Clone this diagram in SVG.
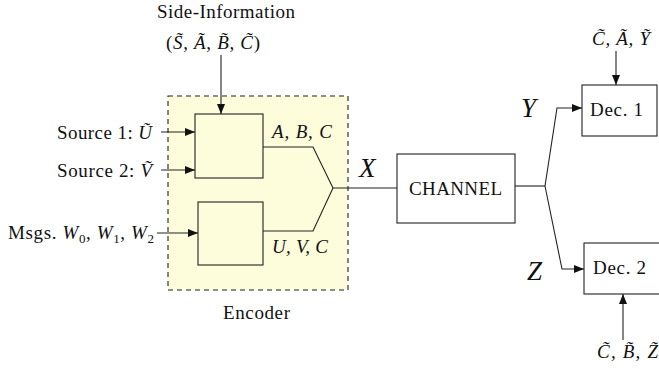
<svg xmlns="http://www.w3.org/2000/svg" width="659" height="369" viewBox="0 0 659 369">
<style>
text{font-family:"Liberation Serif","DejaVu Serif",serif;fill:#111}
.t{font-size:19px}
.m{font-size:19px;font-style:italic}
.big{font-size:27px;font-style:italic}
.box{fill:none;stroke:#222;stroke-width:1.1}
.ln{fill:none;stroke:#222;stroke-width:1.1}
.sub{font-size:13px;font-style:normal}
</style>
<defs>
<marker id="ah" viewBox="0 0 10 8" refX="10" refY="4" markerWidth="10" markerHeight="8" markerUnits="userSpaceOnUse" orient="auto">
<path d="M0,0 L10,4 L0,8 Z" fill="#111"/>
</marker>
</defs>
<g id="encoder">
<rect x="168" y="96" width="180" height="194" fill="#fdfddc" stroke="#222" stroke-width="1.1" stroke-dasharray="5,4"/>
<text class="t" x="223" y="319" textLength="67">Encoder</text>
</g>
<g id="enc1"><rect class="box" x="195" y="114" width="68" height="64"/></g>
<g id="enc2"><rect class="box" x="198" y="202" width="65" height="63"/></g>
<g id="channel">
<rect class="box" x="397" y="154" width="118" height="69" fill="#fff"/>
<text class="t" x="409" y="195" textLength="93">CHANNEL</text>
</g>
<g id="dec1">
<rect class="box" x="582" y="85" width="75" height="51"/>
<text class="t" x="590" y="116" textLength="53">Dec. 1</text>
</g>
<g id="dec2">
<rect x="584" y="243" width="80" height="51" fill="none" stroke="#222" stroke-width="1.1"/>
<text class="t" x="593" y="274" textLength="53">Dec. 2</text>
</g>
<g id="labels">
<text class="t" x="157" y="18" textLength="138">Side-Information</text>
<text class="t" x="166" y="49" textLength="94">(<tspan class="m">S̃</tspan>, <tspan class="m">Ã</tspan>, <tspan class="m">B̃</tspan>, <tspan class="m">C̃</tspan>)</text>
<text class="t" x="57" y="139" textLength="95">Source 1: <tspan class="m">Ũ</tspan></text>
<text class="t" x="57" y="177" textLength="95">Source 2: <tspan class="m">Ṽ</tspan></text>
<text class="t" x="8" y="239" textLength="146">Msgs. <tspan class="m">W</tspan><tspan class="sub" dy="4">0</tspan><tspan dy="-4">, </tspan><tspan class="m">W</tspan><tspan class="sub" dy="4">1</tspan><tspan dy="-4">, </tspan><tspan class="m">W</tspan><tspan class="sub" dy="4">2</tspan></text>
<text class="m" x="272" y="138" textLength="60">A, B, C</text>
<text class="m" x="272" y="253" textLength="56">U, V, C</text>
<text class="big" x="359" y="177">X</text>
<text class="big" x="521" y="117">Y</text>
<text class="big" x="527" y="280">Z</text>
<text class="m" x="592" y="45" textLength="58">C̃, Ã, Ỹ</text>
<text class="m" x="597" y="358" textLength="61">C̃, B̃, Z̃</text>
</g>
<g id="connectors">
<line class="ln" x1="221" y1="55" x2="221" y2="114" marker-end="url(#ah)"/>
<line class="ln" x1="161" y1="132" x2="195" y2="132" marker-end="url(#ah)"/>
<line class="ln" x1="161" y1="170" x2="195" y2="170" marker-end="url(#ah)"/>
<line class="ln" x1="157" y1="233" x2="198" y2="233" marker-end="url(#ah)"/>
<polyline class="ln" points="263,147 313,147 333,188"/>
<polyline class="ln" points="263,231 313,231 333,188"/>
<line class="ln" x1="333" y1="188" x2="397" y2="188"/>
<line class="ln" x1="515" y1="186" x2="545" y2="186"/>
<polyline class="ln" points="545,186 557,108 582,108" marker-end="url(#ah)"/>
<polyline class="ln" points="545,186 562,269 584,269" marker-end="url(#ah)"/>
<line class="ln" x1="616" y1="51" x2="616" y2="85" marker-end="url(#ah)"/>
<line class="ln" x1="623" y1="340" x2="623" y2="294" marker-end="url(#ah)"/>
</g>
</svg>
